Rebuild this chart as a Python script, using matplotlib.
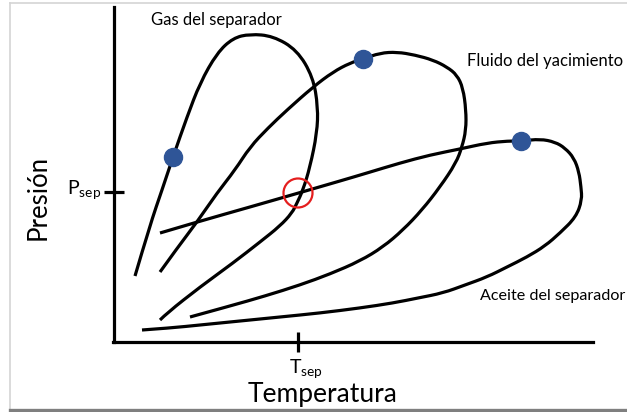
import numpy as np
import matplotlib
matplotlib.use("Agg")
import matplotlib.pyplot as plt
from matplotlib.path import Path
from matplotlib.patches import PathPatch, Circle

plt.rcParams['font.family'] = ['Lato', 'DejaVu Sans']
plt.rcParams['mathtext.fontset'] = 'custom'
plt.rcParams['mathtext.rm'] = 'Lato'

# curves of the phase envelopes (temperature, pressure), arbitrary units
gas_T = [20, 35, 47, 58, 72, 85, 102, 118, 135, 158, 182, 198, 203, 202, 195, 188,
         182, 177, 165, 145, 118, 85, 52, 45]
gas_P = [66, 117, 152, 185, 225, 259, 289, 304, 308, 306, 292, 265, 235, 209, 175, 152,
         139, 129, 116, 100, 79, 55, 29, 22]

fluid_T = [45, 63, 82, 102, 120, 135, 153, 172, 198, 218, 235, 248, 265, 282, 300, 318,
           332, 342, 348, 351, 351, 347, 341, 325, 307, 288, 268, 245, 215, 185, 150, 115, 75]
fluid_P = [70, 95, 120, 149, 172, 195, 214, 232, 255, 270, 279, 283, 289, 290, 287, 282,
           275, 267, 254, 232, 212, 195, 179, 155, 132, 112, 95, 81, 68, 57, 46, 36, 25]

oil_T = [45, 82, 135, 187, 225, 252, 285, 315, 345, 372, 393, 407, 425, 440, 450, 459,
         464, 466, 467, 461, 445, 430, 412, 392, 372, 350, 328, 303, 278, 245, 205, 165,
         125, 85, 55, 27]
oil_P = [109, 120, 135, 150, 161, 169, 179, 187, 193, 199, 201, 201, 203, 200, 194, 184,
         170, 155, 142, 125, 109, 96, 85, 75, 65, 57, 49, 44, 39, 34, 29, 25,
         21, 17, 14, 12]

# critical points
crit_T = [58, 248, 406]
crit_P = [185, 283, 201]

# separator conditions
T_sep = 183
P_sep = 150

labels = ["Gas del separador", "Fluido del yacimiento", "Aceite del separador"]
label_T = [36, 352, 365]
label_P = [317, 276, 42]
label_size = [12, 12, 11.6]


def smooth_path(xs, ys):
    # quadratic bezier through midpoints of the control polygon
    pts = np.column_stack([xs, ys]).astype(float)
    verts = [pts[0]]
    codes = [Path.MOVETO]
    for i in range(1, len(pts) - 2):
        mid = (pts[i] + pts[i + 1]) / 2
        verts += [pts[i], mid]
        codes += [Path.CURVE3, Path.CURVE3]
    verts += [pts[-2], pts[-1]]
    codes += [Path.CURVE3, Path.CURVE3]
    return Path(verts, codes)


fig = plt.figure(figsize=(6.27, 4.12), dpi=100)
ax = fig.add_axes([0, 0, 1, 1])
ax.set_xlim(-115, 512)
ax.set_ylim(-70, 342)

for xs, ys in [(gas_T, gas_P), (fluid_T, fluid_P), (oil_T, oil_P)]:
    ax.add_patch(PathPatch(smooth_path(xs, ys), fill=False, lw=2.3,
                           edgecolor='black', capstyle='butt', zorder=2))

ax.plot(crit_T, crit_P, 'o', color='#2F5597', ms=13, zorder=3)
ax.add_patch(Circle((T_sep, P_sep - 1), 14.5, fill=False, edgecolor='#E41E1E',
                    lw=1.6, zorder=4))

# axes as spines
for s in ['top', 'right']:
    ax.spines[s].set_visible(False)
ax.spines['left'].set_position(('data', -1))
ax.spines['bottom'].set_position(('data', 0))
ax.spines['left'].set_bounds(0, 335)
ax.spines['bottom'].set_bounds(-2, 478)
ax.spines['left'].set_linewidth(2.3)
ax.spines['bottom'].set_linewidth(2.3)
ax.set_xticks([T_sep])
ax.set_yticks([P_sep])
ax.set_xticklabels([])
ax.set_yticklabels([])
ax.tick_params(direction='inout', length=14.5, width=2.3, color='black')

ax.text(-14, P_sep - 2, r'$\mathrm{P_{sep}}$', fontsize=14, ha='right', va='baseline')
ax.text(T_sep - 9, -31, r'$\mathrm{T_{sep}}$', fontsize=14, ha='left', va='baseline')
ax.text(208, -60, 'Temperatura', fontsize=19, ha='center', va='baseline')
ax.text(-69, 145, 'Presión', fontsize=18.5, rotation=90, rotation_mode='anchor',
        ha='center', va='baseline')

for lab, tx, py, fs in zip(labels, label_T, label_P, label_size):
    ax.text(tx, py, lab, fontsize=fs, ha='left', va='baseline')

# screenshot frame
fig.lines.append(plt.Line2D([10 / 627, 10 / 627], [2 / 412, 1 - 3 / 412],
                            transform=fig.transFigure, color='#d4d4d4', lw=1.2))
fig.lines.append(plt.Line2D([10 / 627, 1], [1 - 3 / 412, 1 - 3 / 412],
                            transform=fig.transFigure, color='#d4d4d4', lw=1.2))
fig.lines.append(plt.Line2D([10 / 627, 1], [2 / 412, 2 / 412],
                            transform=fig.transFigure, color='#7f7f7f', lw=2.4))

fig.savefig('out.png', dpi=100)
